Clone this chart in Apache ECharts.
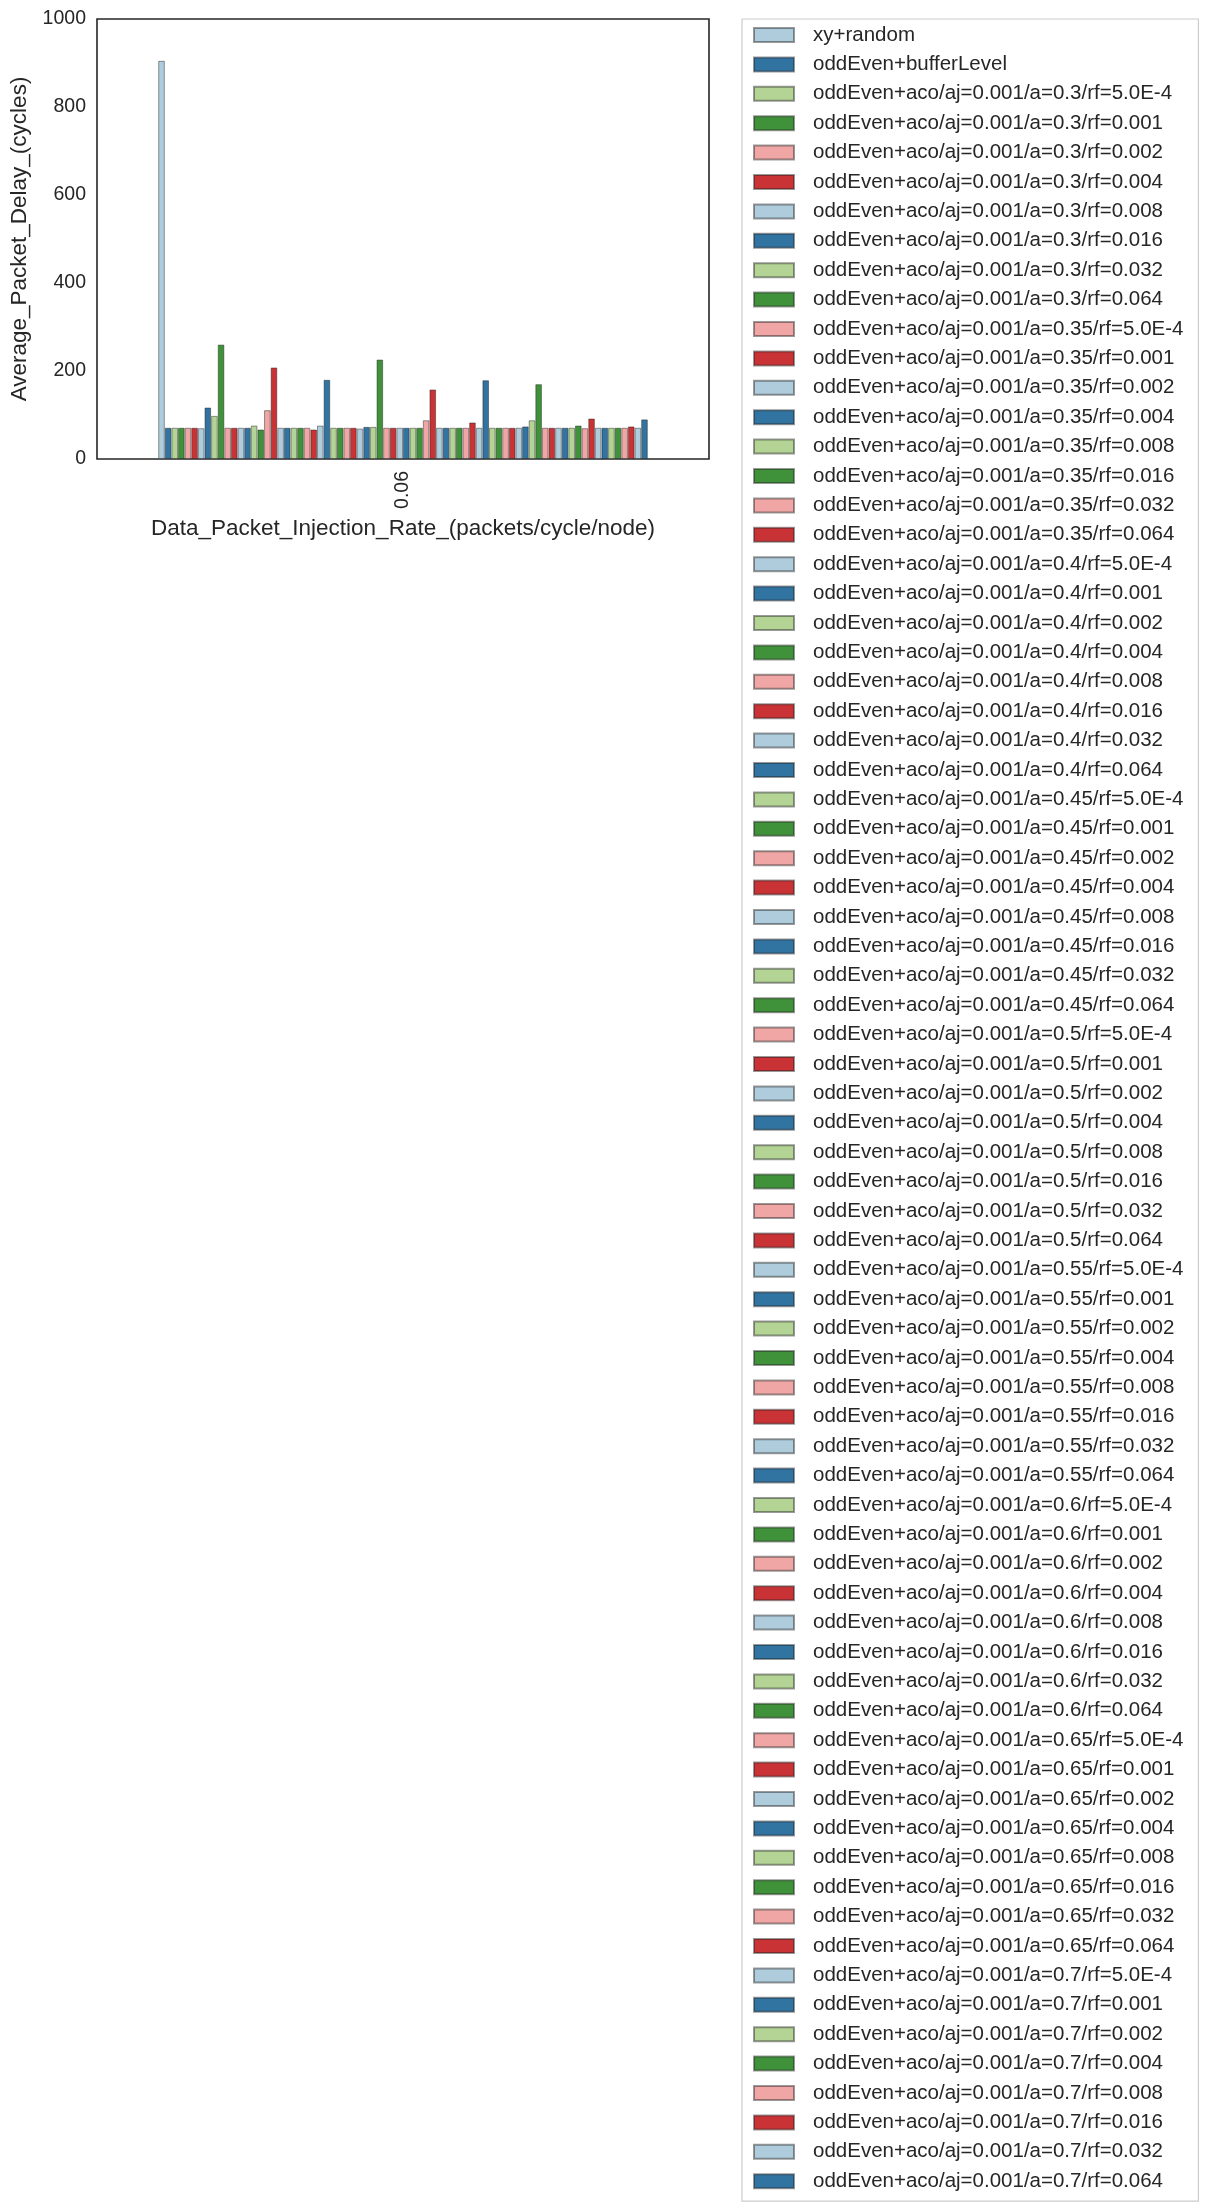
<!DOCTYPE html>
<html>
<head>
<meta charset="utf-8">
<script src="https://cdn.jsdelivr.net/npm/echarts@6/dist/echarts.min.js"></script>
<style>
  html, body { margin: 0; padding: 0; background: #ffffff; }
  #chart { width: 1207px; height: 2212px; }
</style>
</head>
<body>
<div id="chart"></div>
<script>
// ---- data ----
const categories = ['0.06'];
const alphaValues = ['0.3', '0.35', '0.4', '0.45', '0.5', '0.55', '0.6', '0.65', '0.7'];
const rfValues = ['5.0E-4', '0.001', '0.002', '0.004', '0.008', '0.016', '0.032', '0.064'];
const baseSeriesNames = ['xy+random', 'oddEven+bufferLevel'];
const seriesNames = baseSeriesNames.concat(
  alphaValues.flatMap(a => rfValues.map(rf => 'oddEven+aco/aj=0.001/a=' + a + '/rf=' + rf))
);
// Average packet delay (cycles) at injection rate 0.06, one value per series, in legend order
const delayValues = [
  905, 71,
  71, 71, 71, 71, 70, 117, 98, 260,     // a=0.3
  71, 71, 71, 71, 76, 67, 111, 208,     // a=0.35
  71, 71, 71, 71, 71, 67, 76, 180,      // a=0.4
  71, 71, 71, 71, 69, 73, 73, 226,      // a=0.45
  71, 71, 71, 71, 71, 71, 88, 158,      // a=0.5
  71, 71, 71, 71, 71, 83, 71, 179,      // a=0.55
  71, 71, 71, 71, 71, 74, 88, 170,      // a=0.6
  71, 71, 71, 71, 71, 76, 70, 92,       // a=0.65
  71, 71, 71, 71, 71, 74, 71, 90        // a=0.7
];
const yTicks = [0, 200, 400, 600, 800, 1000];

// ---- style ----
const palette = ['#aeccdb', '#3173a1', '#b3d495', '#40923a', '#efa6a5', '#ca3335'];
const textColor = '#262626';
const fontFamily = '"Liberation Sans", Arial, sans-serif';

const series = seriesNames.map((name, i) => ({
  name: name,
  type: 'bar',
  data: [delayValues[i]],
  barGap: '0%',
  barCategoryGap: '20%',
  itemStyle: {
    color: palette[i % palette.length],
    borderColor: 'rgba(30,30,30,0.45)',
    borderWidth: 1
  },
  emphasis: { disabled: true },
  animation: false
}));

const chart = echarts.init(document.getElementById('chart'), null, { renderer: 'canvas' });
chart.setOption({
  animation: false,
  backgroundColor: '#ffffff',
  textStyle: { fontFamily: fontFamily, color: textColor },
  grid: {
    left: 93, top: 19, width: 616, height: 440,
    show: true, borderColor: '#262626', borderWidth: 1.6, backgroundColor: 'transparent'
  },
  xAxis: {
    type: 'category',
    data: categories,
    name: 'Data_Packet_Injection_Rate_(packets/cycle/node)',
    nameLocation: 'middle',
    nameGap: 58,
    nameTextStyle: { fontSize: 22.5, color: textColor, fontFamily: fontFamily },
    axisLine: { show: false },
    axisTick: { show: false },
    axisLabel: { rotate: 90, fontSize: 19.5, color: textColor, margin: 12, fontFamily: fontFamily },
    splitLine: { show: false }
  },
  yAxis: {
    type: 'value',
    min: yTicks[0],
    max: yTicks[yTicks.length - 1],
    interval: yTicks[1] - yTicks[0],
    name: 'Average_Packet_Delay_(cycles)',
    nameLocation: 'middle',
    nameGap: 66,
    nameTextStyle: { fontSize: 22.5, color: textColor, fontFamily: fontFamily },
    axisLine: { show: false },
    axisTick: { show: false },
    splitLine: { show: false },
    axisLabel: {
      fontSize: 19.5, color: textColor, margin: 11, fontFamily: fontFamily,
      formatter: v => String(v)
    }
  },
  legend: {
    data: seriesNames,
    orient: 'vertical',
    left: 742,
    top: 19,
    bottom: 0,
    icon: 'rect',
    itemWidth: 40,
    itemHeight: 14,
    itemGap: 8.4,
    padding: [5.5, 15, 9.5, 11],
    backgroundColor: '#ffffff',
    borderColor: '#cccccc',
    borderWidth: 1.2,
    borderRadius: 0,
    selectedMode: false,
    textStyle: { fontSize: 20.5, color: textColor, fontFamily: fontFamily, lineHeight: 20, padding: [0, 0, 0, 14] }
  },
  series: series
});
</script>
</body>
</html>
